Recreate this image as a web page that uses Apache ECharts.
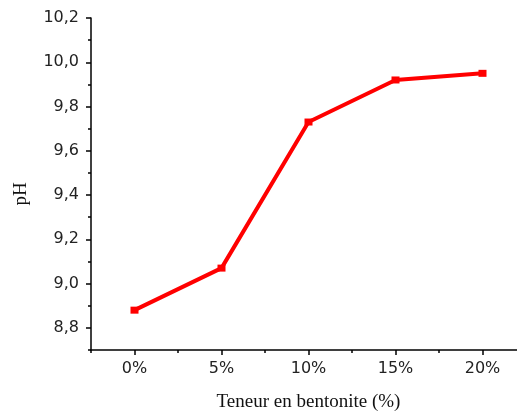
<!DOCTYPE html>
<html>
<head>
<meta charset="utf-8">
<script src="https://cdn.jsdelivr.net/npm/echarts@6/dist/echarts.min.js"></script>
<style>html,body{margin:0;padding:0;background:#fff}#c{width:517px;height:411px}</style>
</head>
<body>
<div id="c"></div>
<script>
var contents = [0, 5, 10, 15, 20];
var phValues = [8.88, 9.07, 9.73, 9.92, 9.95];
var xMajorTicks = [0, 5, 10, 15, 20];
var xMinorTicks = [-2.5, 2.5, 7.5, 12.5, 17.5];
var yMajorTicks = [8.8, 9.0, 9.2, 9.4, 9.6, 9.8, 10.0, 10.2];
var yMinorTicks = [8.7, 8.9, 9.1, 9.3, 9.5, 9.7, 9.9, 10.1];

var chart = echarts.init(document.getElementById('c'));
var labelStyle = {fontFamily: 'DejaVu Sans', fontSize: 16, color: '#222'};
var lineStyle = {color: '#000', width: 1.5};
chart.setOption({
  animation: false,
  grid: {left: 91, top: 18, bottom: 61, right: -9, outerBoundsMode: 'none', containLabel: false},
  xAxis: [{
    type: 'value', min: -2.5, max: 22.5, interval: 2.5,
    name: 'Teneur en bentonite (%)', nameLocation: 'middle', nameGap: 43,
    nameTextStyle: {fontFamily: 'Liberation Serif', fontSize: 19, color: '#111'},
    axisLine: {show: true, onZero: false, lineStyle: lineStyle},
    axisTick: {show: true, length: 5, customValues: xMajorTicks, lineStyle: {color: '#000', width: 1.5}},
    axisLabel: Object.assign({customValues: xMajorTicks, margin: 11, formatter: function (v) { return v + '%'; }}, labelStyle),
    splitLine: {show: false}
  }, {
    type: 'value', min: -2.5, max: 22.5, interval: 2.5, position: 'bottom',
    axisLine: {show: false, onZero: false},
    axisTick: {show: true, length: 3, customValues: xMinorTicks, lineStyle: {color: '#000', width: 1.5}},
    axisLabel: {show: false}, splitLine: {show: false}
  }],
  yAxis: [{
    type: 'value', min: 8.7, max: 10.2, interval: 0.1,
    name: 'pH', nameLocation: 'middle', nameGap: 60, nameRotate: 90,
    nameTextStyle: {fontFamily: 'Liberation Serif', fontSize: 19, color: '#111', padding: [0, 20, 0, 0]},
    axisLine: {show: true, onZero: false, lineStyle: lineStyle},
    axisTick: {show: true, length: 5, customValues: yMajorTicks, lineStyle: {color: '#000', width: 1.5}},
    axisLabel: Object.assign({customValues: yMajorTicks, margin: 12, formatter: function (v) { return v.toFixed(1).replace('.', ','); }}, labelStyle),
    splitLine: {show: false}
  }, {
    type: 'value', min: 8.7, max: 10.2, interval: 0.1, position: 'left',
    axisLine: {show: false, onZero: false},
    axisTick: {show: true, length: 3, customValues: yMinorTicks, lineStyle: {color: '#000', width: 1.5}},
    axisLabel: {show: false}, splitLine: {show: false}
  }],
  series: [{
    type: 'line',
    data: contents.map(function (c, i) { return [c, phValues[i]]; }),
    symbol: 'rect', symbolSize: [8, 7], showSymbol: true,
    lineStyle: {color: '#ff0000', width: 4},
    itemStyle: {color: '#ff0000'}
  }]
});
</script>
</body>
</html>
